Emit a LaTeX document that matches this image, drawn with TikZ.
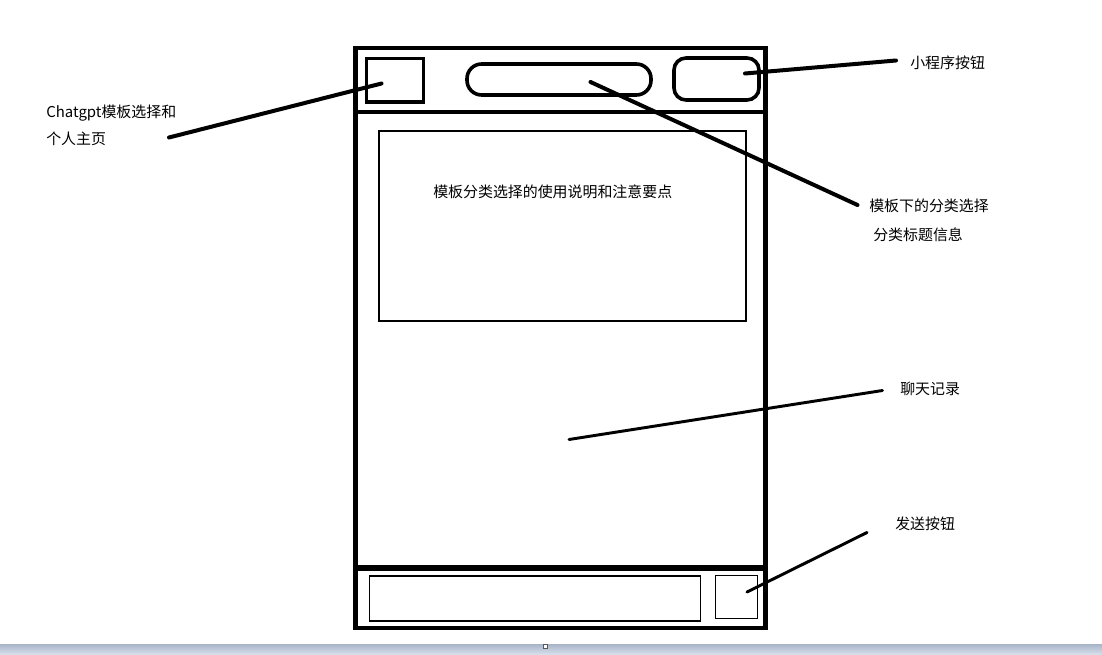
\documentclass[tikz,border=0pt]{standalone}
\usepackage{fontspec}
\setmainfont{Noto Sans CJK SC}
\begin{document}
\begin{tikzpicture}[x=0.75pt,y=-0.75pt,
  frame/.style={draw=black,line width=3.5pt},
  thickbox/.style={draw=black,line width=2.7pt},
  thinbox/.style={draw=black,line width=0.8pt},
  pointer/.style={draw=black,line width=3pt,line cap=round},
  pointerthin/.style={draw=black,line width=2.2pt,line cap=round},
  lbl/.style={inner sep=0pt,anchor=west,font=\fontsize{11.2}{13}\selectfont}]
\useasboundingbox (0,0) rectangle (1102,655);
\fill[white] (0,0) rectangle (1102,655);
% window bar at the bottom
\shade[top color={rgb,255:red,168;green,180;blue,200},bottom color={rgb,255:red,218;green,226;blue,238}] (0,644) rectangle (1102,655);
\node[draw={rgb,255:red,90;green,90;blue,90},fill=white,line width=0.8pt,minimum size=3pt,inner sep=0pt] (handle) at (545.5,646.5) {};
% phone frame
\draw[frame] (355.5,48) rectangle (765.5,628) ;
\draw[frame] (355.5,112) -- (765.5,112);
\draw[draw=black,line width=4.5pt] (355.5,567.5) -- (765.5,567.5);
% top bar elements
\node[thickbox,minimum width=57pt*0.75,minimum height=43.5pt*0.75,inner sep=0pt] (tmpl) at (395,80.25) {};
\node[thickbox,rounded corners=11pt,minimum width=184pt*0.75,minimum height=31pt*0.75,inner sep=0pt] (cat) at (559,79.5) {};
\node[thickbox,rounded corners=9pt,minimum width=85pt*0.75,minimum height=42pt*0.75,inner sep=0pt] (mini) at (716.5,79) {};
% content
\node[thinbox,minimum width=367pt*0.75,minimum height=190pt*0.75,inner sep=0pt] (info) at (562.5,226) {};
\node[lbl] (infotext) at (433,191.5) {模板分类选择的使用说明和注意要点};
% bottom bar
\node[thinbox,minimum width=331pt*0.75,minimum height=45pt*0.75,inner sep=0pt] (input) at (535,598.5) {};
\node[thinbox,minimum width=42pt*0.75,minimum height=43pt*0.75,inner sep=0pt] (send) at (736.5,597) {};
% labels
\node[lbl] (lchat1) at (46,113) {Chatgpt模板选择和};
\node[lbl] (lchat2) at (46,139) {个人主页};
\node[lbl] (lmini) at (910,62.5) {小程序按钮};
\node[lbl] (lcat1) at (869,205.5) {模板下的分类选择};
\node[lbl] (lcat2) at (873,235) {分类标题信息};
\node[lbl] (lrec) at (900,389) {聊天记录};
\node[lbl] (lsend) at (895,524) {发送按钮};
% pointer ends
\coordinate (pchatA) at (169,137.5);
\coordinate (pchatB) at (381.5,83.5);
\coordinate (pminiA) at (745,73.5);
\coordinate (pminiB) at (896,60.5);
\coordinate (pcatA) at (590.5,82);
\coordinate (pcatB) at (857.5,205);
\coordinate (precA) at (569,439.5);
\coordinate (precB) at (882.5,390.5);
\coordinate (psendA) at (747,592);
\coordinate (psendB) at (867,532.5);
\draw[pointer] (pchatA) -- (pchatB);
\draw[pointer] (pminiA) -- (pminiB);
\draw[pointer] (pcatA) -- (pcatB);
\draw[pointerthin] (precA) -- (precB);
\draw[pointerthin] (psendA) -- (psendB);
\end{tikzpicture}
\end{document}
